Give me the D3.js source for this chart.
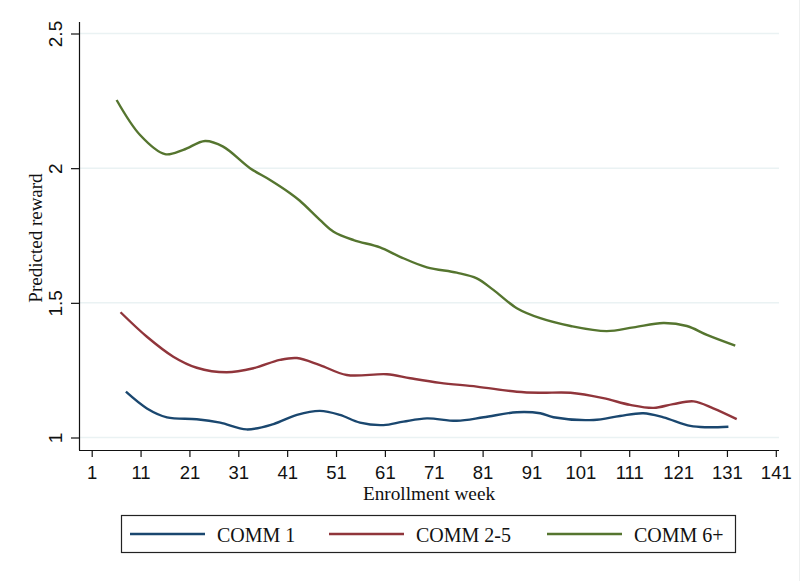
<!DOCTYPE html>
<html>
<head>
<meta charset="utf-8">
<script src="https://cdn.jsdelivr.net/npm/d3@7"></script>
<style>
  html, body { margin: 0; padding: 0; background: #fff; }
  svg { display: block; }
</style>
</head>
<body>
<svg id="chart" width="800" height="581"></svg>
<script>
// ---- Data ----
const xTicks = [1, 11, 21, 31, 41, 51, 61, 71, 81, 91, 101, 111, 121, 131, 141];
const yTicks = [1, 1.5, 2, 2.5];
const yTickLabels = ["1", "1.5", "2", "2.5"];
const seriesNames = ["COMM 1", "COMM 2-5", "COMM 6+"];
const seriesColors = ["#1a476f", "#90353b", "#55752f"];

const comm1Weeks  = [8, 12.3, 16.4, 22.5, 27.3, 32.7, 38.2, 43, 47.7, 51.8, 55.9, 60.7, 64.8, 69.6, 75.7, 81.2, 88, 92.8, 95.5, 103.7, 109.1, 113.9, 118, 123.5, 126.9, 131.3];
const comm1Values = [1.170, 1.108, 1.075, 1.068, 1.055, 1.030, 1.050, 1.084, 1.099, 1.084, 1.055, 1.046, 1.059, 1.071, 1.062, 1.075, 1.094, 1.090, 1.075, 1.065, 1.080, 1.090, 1.075, 1.043, 1.038, 1.040];

const comm25Weeks  = [6.9, 12.3, 17.7, 22.5, 28.6, 34.1, 39.5, 43, 47.7, 53.2, 61.4, 66.2, 72.3, 79.8, 88, 92.8, 99, 105.7, 111.2, 116, 120, 124.2, 128.2, 133];
const comm25Values = [1.465, 1.374, 1.300, 1.259, 1.242, 1.257, 1.288, 1.295, 1.269, 1.232, 1.235, 1.220, 1.203, 1.189, 1.170, 1.166, 1.166, 1.146, 1.121, 1.110, 1.124, 1.134, 1.108, 1.068];

const comm6Weeks  = [6.1, 10.9, 16.0, 19.75, 24.2, 27.9, 33.4, 37.5, 41.6, 43.6, 47.7, 50.5, 54.6, 60.0, 64.1, 69.6, 75.7, 79.8, 83.2, 88, 92.8, 99, 106.4, 111.9, 118, 122.8, 126.9, 132.7];
const comm6Values = [2.253, 2.123, 2.052, 2.068, 2.101, 2.080, 2.000, 1.956, 1.907, 1.879, 1.808, 1.764, 1.733, 1.706, 1.671, 1.632, 1.612, 1.591, 1.548, 1.480, 1.443, 1.414, 1.395, 1.409, 1.425, 1.414, 1.381, 1.341];

const series = [
  { name: seriesNames[0], color: seriesColors[0], weeks: comm1Weeks, values: comm1Values },
  { name: seriesNames[1], color: seriesColors[1], weeks: comm25Weeks, values: comm25Values },
  { name: seriesNames[2], color: seriesColors[2], weeks: comm6Weeks, values: comm6Values }
];

// ---- Layout ----
const svg = d3.select("#chart");
const axisLeftX = 79, axisBottomY = 450, plotTop = 22, plotRight = 779;

const x = d3.scaleLinear().domain([1, 141]).range([91.7, 775.8]);
const y = d3.scaleLinear().domain([1, 2.5]).range([437.5, 33.5]);

const sansFont = "'Liberation Sans', Arial, Helvetica, sans-serif";
const serifFont = "'Liberation Serif', 'Times New Roman', Times, serif";

// faint graph-region border on the right
svg.append("line").attr("x1", 799.5).attr("x2", 799.5).attr("y1", 0).attr("y2", 581)
  .attr("stroke", "#eef0f0").attr("stroke-width", 1);

// gridlines
svg.append("g").selectAll("line").data(yTicks).join("line")
  .attr("x1", axisLeftX).attr("x2", plotRight)
  .attr("y1", d => y(d)).attr("y2", d => y(d))
  .attr("stroke", "#eaf2f3").attr("stroke-width", 1.5);

// y axis
const yAxis = d3.axisLeft(y).tickValues(yTicks).tickSize(8)
  .tickFormat((d, i) => yTickLabels[i]);
const gy = svg.append("g").attr("transform", `translate(${axisLeftX},0)`).call(yAxis);
gy.select(".domain").attr("d", `M0.5,${plotTop}V${axisBottomY}`).attr("stroke", "#111").attr("stroke-width", 1.2);
gy.selectAll(".tick line").attr("stroke", "#111").attr("stroke-width", 1.2);
gy.selectAll(".tick text")
  .attr("font-family", sansFont).attr("font-size", 19).attr("fill", "#111")
  .attr("text-anchor", "middle")
  .attr("transform", "translate(-17,0) rotate(-90)")
  .attr("x", 0).attr("dy", 0).attr("y", 0);

// x axis
const xAxis = d3.axisBottom(x).tickValues(xTicks).tickSize(7).tickFormat(d3.format("d"));
const gx = svg.append("g").attr("transform", `translate(0,${axisBottomY})`).call(xAxis);
gx.select(".domain").attr("d", `M${axisLeftX},0.5H${plotRight}`).attr("stroke", "#111").attr("stroke-width", 1.2);
gx.selectAll(".tick line").attr("stroke", "#111").attr("stroke-width", 1.2);
gx.selectAll(".tick text")
  .attr("font-family", sansFont).attr("font-size", 18.5).attr("fill", "#111")
  .attr("y", 29).attr("dy", 0);

// axis titles
svg.append("text")
  .attr("transform", `translate(42,238) rotate(-90)`)
  .attr("text-anchor", "middle")
  .attr("font-family", serifFont).attr("font-size", 19).attr("fill", "#111")
  .text("Predicted reward");
svg.append("text")
  .attr("x", 429).attr("y", 500)
  .attr("text-anchor", "middle")
  .attr("font-family", serifFont).attr("font-size", 19.3).attr("fill", "#111")
  .text("Enrollment week");

// lines
const line = d3.line().x(d => x(d[0])).y(d => y(d[1])).curve(d3.curveCatmullRom.alpha(0.5));
svg.append("g").selectAll("path").data(series).join("path")
  .attr("d", s => line(s.weeks.map((w, i) => [w, s.values[i]])))
  .attr("fill", "none")
  .attr("stroke", s => s.color)
  .attr("stroke-width", 2.4)
  .attr("stroke-linecap", "butt")
  .attr("stroke-linejoin", "round");

// legend
const legend = svg.append("g");
legend.append("rect")
  .attr("x", 121.5).attr("y", 515.5).attr("width", 614).attr("height", 37)
  .attr("fill", "#fff").attr("stroke", "#222").attr("stroke-width", 1.2);
const legendX = [130, 329, 547];
const legendItems = legend.selectAll("g.item").data(series).join("g")
  .attr("class", "item")
  .attr("transform", (d, i) => `translate(${legendX[i]},534)`);
legendItems.append("line")
  .attr("x1", 0).attr("x2", 75).attr("y1", 0).attr("y2", 0)
  .attr("stroke", d => d.color).attr("stroke-width", 2.6);
legendItems.append("text")
  .attr("x", 87).attr("y", 8)
  .attr("font-family", serifFont).attr("font-size", 20).attr("fill", "#111")
  .text(d => d.name);
</script>
</body>
</html>
